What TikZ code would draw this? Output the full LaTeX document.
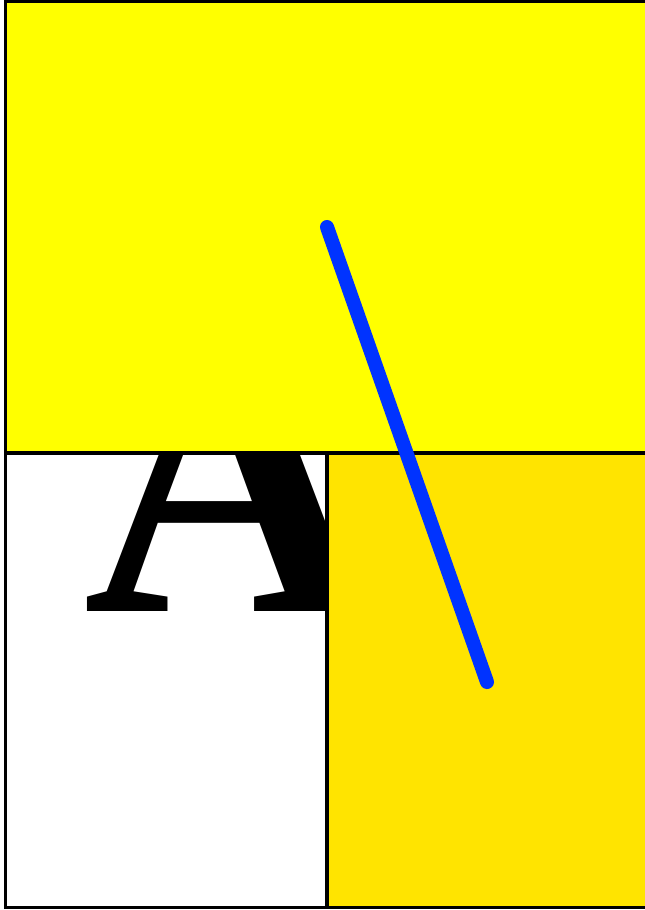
\documentclass[tikz,border=0pt]{standalone}
\usepackage{fontspec}
\newfontfamily\glyphfont{Liberation Serif}
\definecolor{topyellow}{HTML}{FFFF00}
\definecolor{boxgold}{HTML}{FFE400}
\definecolor{strokeblue}{HTML}{0033FF}
\begin{document}
\begin{tikzpicture}[x=0.02cm,y=-0.02cm]
    \useasboundingbox (0,0) rectangle (645,910);
    % lower left panel with the letter
    \draw[line width=1.8pt,fill=white] (5.5,453) rectangle (327,907.5);
    \node[anchor=base west,inner sep=0pt] (letter) at (83.5,611.5) {\glyphfont\bfseries\fontsize{230}{230}\selectfont A};
    % upper panel
    \draw[line width=1.8pt,fill=topyellow] (5.5,1.5) rectangle (660,453);
    % lower right panel
    \draw[line width=1.8pt,fill=boxgold] (327,453) rectangle (660,907.5);
    % stroke
    \draw[strokeblue,line width=8pt,line cap=round] (327,227) -- (487,682);
\end{tikzpicture}
\end{document}
